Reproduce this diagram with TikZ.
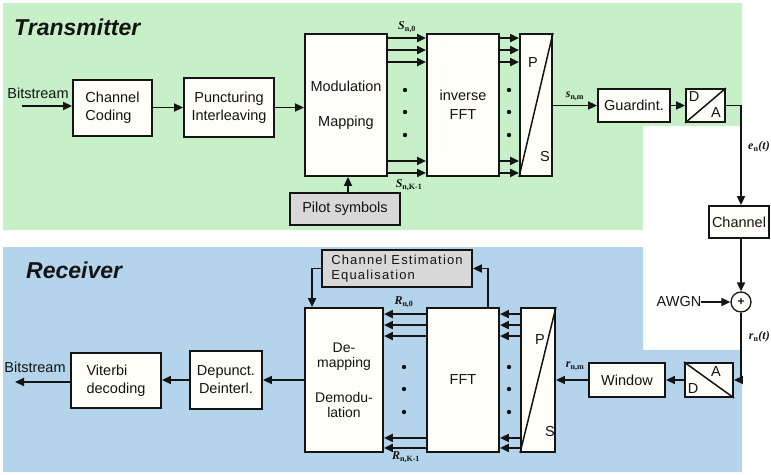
\documentclass[tikz,border=0pt]{standalone}
\usepackage{fontspec}
\setmainfont{Liberation Sans}
\newfontfamily\spacedfont[LetterSpace=9]{Liberation Sans}
\newfontfamily\labfont{Liberation Serif}
\usetikzlibrary{arrows.meta,calc}

\definecolor{tgreen}{RGB}{200,240,200}
\definecolor{rblue}{RGB}{180,212,236}
\definecolor{boxfill}{RGB}{255,254,248}
\definecolor{gbox}{RGB}{216,216,216}
\definecolor{ink}{RGB}{20,20,20}

\newcommand{\lbl}[2]{\textbf{\textit{#1}}\textsubscript{\textbf{#2}}}

\tikzset{
 blk/.style={draw=ink, line width=1.9pt, fill=boxfill, inner sep=2pt, font=\fontsize{14.5}{18}\selectfont, text=ink, align=center},
 gblk/.style={blk, fill=gbox},
 arr/.style={draw=ink, line width=1.9pt, -{Triangle[length=9pt,width=8pt]}},
 ln/.style={draw=ink, line width=1.5pt},
 lab/.style={font=\labfont\fontsize{12}{12}\selectfont, text=ink, inner sep=0pt},
 plain/.style={font=\fontsize{14.5}{16}\selectfont, text=ink, inner sep=0pt},
 title/.style={font=\fontsize{23}{23}\selectfont\bfseries\itshape, text=ink, anchor=west, inner sep=0pt},
}

\begin{document}
\begin{tikzpicture}[x=1pt,y=-1pt]
\useasboundingbox (0,0) rectangle (771,474);
% backgrounds
\fill[tgreen] (3,3) -- (742,3) -- (742,126) -- (643,126) -- (643,230) -- (3,230) -- cycle;
\fill[rblue] (3,247) -- (643,247) -- (643,350) -- (742,350) -- (742,472) -- (3,472) -- cycle;

% titles
\node[title] (ttx) at (14,27) {Transmitter};
\node[title] (trx) at (26,270) {Receiver};

% ---------------- Transmitter ----------------
\node[blk, align=left, minimum width=79pt, minimum height=56pt] (cc) at (112.5,108) {Channel\\Coding};
\node[blk, minimum width=90pt, minimum height=59pt] (pi) at (229,107.5) {Puncturing\\Interleaving};
\node[blk, minimum width=82pt, minimum height=142pt] (mod) at (346,105) {Modulation\\[17pt]Mapping};
\node[blk, minimum width=72pt, minimum height=142pt] (ifft) at (463,105) {inverse\\[1pt]FFT};
\node[blk, minimum width=32pt, minimum height=142pt] (ps) at (536,105) {};
\node[gblk, minimum width=110pt, minimum height=32pt] (pilot) at (345,209) {Pilot symbols};
\node[blk, minimum width=72pt, minimum height=33pt] (gi) at (634,105.5) {Guardint.};
\node[blk, minimum width=39pt, minimum height=33pt] (da) at (705.5,105.5) {};
\node[blk, minimum width=60pt, minimum height=32pt] (ch) at (739,222) {Channel};
\node[draw=ink, line width=1.3pt, circle, minimum size=20pt, fill=boxfill, inner sep=0pt, font=\fontsize{12}{12}\selectfont\bfseries, text=ink] (add) at (741,302) {+};

\draw[ln] (ps.south west) -- (ps.north east);
\node[plain] (psP) at (533,63) {P};
\node[plain] (psS) at (545,157) {S};
\draw[ln] (da.south west) -- (da.north east);
\node[plain] (daD) at (694,97) {D};
\node[plain] (daA) at (716,113) {A};

\node[plain] (bsin) at (38,93) {Bitstream};
\coordinate (bsa) at (22,106);
\draw[arr] (bsa) -- (bsa -| cc.west);
\draw[arr] (cc.east |- pi.west) -- (pi.west);
\draw[arr] (pi.east) -- (pi.east -| mod.west);

\foreach \o in {5,17,29,-16,-4}{
  \ifnum\o>0
    \draw[arr] ([yshift=-\o pt]mod.north east) -- ([yshift=-\o pt]ifft.north west);
    \draw[arr] ([yshift=-\o pt]ifft.north east) -- ([yshift=-\o pt]ps.north west);
  \else
    \draw[arr] ([yshift=-\o pt]mod.south east) -- ([yshift=-\o pt]ifft.south west);
    \draw[arr] ([yshift=-\o pt]ifft.south east) -- ([yshift=-\o pt]ps.south west);
  \fi
}
\foreach \yy in {90,112,135}{
  \fill[ink] (405,\yy) circle (2.2pt);
  \fill[ink] (509,\yy) circle (2.2pt);
}
\node[lab] (s0) at (407,27) {\lbl{S}{n,0}};
\node[lab] (sk) at (409,185) {\lbl{S}{n,K-1}};

\coordinate (pt) at ([xshift=3pt]pilot.north);
\draw[arr] (pt) -- (pt |- mod.south);

\draw[arr] (ps.east |- gi.west) -- (gi.west);
\node[lab] (snm) at (575,96) {\lbl{s}{n,m}};
\draw[arr] (gi.east) -- (da.west);
\coordinate (c1) at (741,105.5);
\draw[arr] (da.east) -- (c1) -- (c1 |- ch.north);
\node[lab, anchor=east] (ent) at (770,147) {\textbf{\textit{e}}\textsubscript{\textbf{n}}\textbf{\textit{(t)}}};
\draw[arr] (c1 |- ch.south) -- (add.north);
\node[plain] (awgn) at (679,302) {AWGN};
\draw[arr] (awgn.east) -- (add.west);
\node[lab, anchor=east] (rnt) at (770,337) {\textbf{\textit{r}}\textsubscript{\textbf{n}}\textbf{\textit{(t)}}};

% ---------------- Receiver ----------------
\node[blk, minimum width=48pt, minimum height=34pt] (ad) at (709,380) {};
\node[blk, minimum width=76pt, minimum height=34pt] (win) at (627,380) {Window};
\node[blk, minimum width=34pt, minimum height=144pt] (rps) at (538,380) {};
\node[blk, minimum width=72pt, minimum height=144pt] (fft) at (463,380) {FFT};
\node[blk, minimum width=78pt, minimum height=144pt, font=\fontsize{14}{15}\selectfont] (dem) at (344,380) {De-\\mapping\\[20pt]Demodu-\\lation};
\node[gblk, align=left, minimum width=150pt, minimum height=37pt, font=\spacedfont\fontsize{13}{15}\selectfont] (ce) at (397,268.5) {Channel Estimation\\Equalisation};
\node[blk, minimum width=72pt, minimum height=58pt] (dd) at (226,380) {Depunct.\\Deinterl.};
\node[blk, align=left, minimum width=90pt, minimum height=55pt] (vit) at (116,380.5) {Viterbi\\decoding};

\draw[ln] (ad.north west) -- (ad.south east);
\node[plain] (adA) at (716,372) {A};
\node[plain] (adD) at (693,389) {D};
\draw[ln] (rps.south west) -- (rps.north east);
\node[plain] (rpsP) at (540,340) {P};
\node[plain] (rpsS) at (550,432) {S};

\draw[arr] (add.south) |- (ad.east);
\draw[arr] (ad.west) -- (win.east);
\draw[arr] (win.west) -- (rps.east |- win.west);
\node[lab] (rnm) at (575,366) {\lbl{r}{n,m}};

\foreach \o in {7,18,29,-15,-5}{
  \ifnum\o>0
    \draw[arr] ([yshift=-\o pt]rps.north west) -- ([yshift=-\o pt]fft.north east);
    \draw[arr] ([yshift=-\o pt]fft.north west) -- ([yshift=-\o pt]dem.north east);
  \else
    \draw[arr] ([yshift=-\o pt]rps.south west) -- ([yshift=-\o pt]fft.south east);
    \draw[arr] ([yshift=-\o pt]fft.south west) -- ([yshift=-\o pt]dem.south east);
  \fi
}
\foreach \yy in {367,389,412}{
  \fill[ink] (404,\yy) circle (2.2pt);
  \fill[ink] (509,\yy) circle (2.2pt);
}
\node[lab] (r0) at (404,302) {\lbl{R}{n,0}};
\node[lab] (rk) at (406,457) {\lbl{R}{n,K-1}};

\coordinate (ft) at ([xshift=-12pt]fft.north east);
\draw[arr] (ft) |- (ce.east);
\coordinate (dt) at ([xshift=8pt]dem.north west);
\draw[arr] (ce.west) -| (dt);

\draw[arr] (dem.west) -- (dem.west -| dd.east);
\draw[arr] (dd.west) -- (dd.west -| vit.east);
\node[plain] (bsout) at (35,367) {Bitstream};
\coordinate (bso) at (15,382);
\draw[arr] (vit.west |- bso) -- (bso);
\end{tikzpicture}
\end{document}
